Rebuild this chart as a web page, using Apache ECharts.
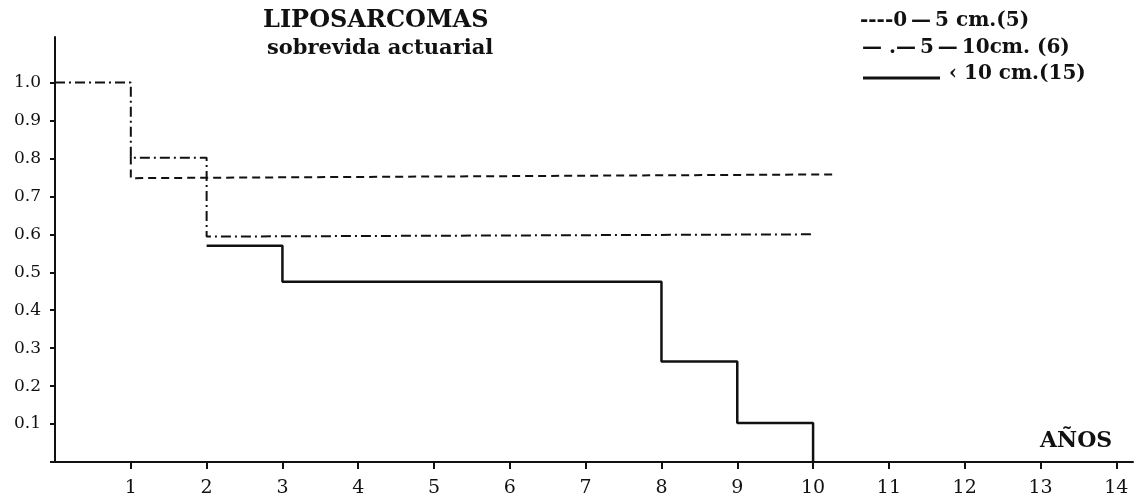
<!DOCTYPE html>
<html>

<head>
    <meta charset="utf-8">
    <script src="https://cdn.jsdelivr.net/npm/echarts@6/dist/echarts.min.js"></script>
    <style>
        body { margin: 0; background: #fff; }
        #main { width: 1137px; height: 504px; }
    </style>
</head>

<body>
    <div id="main"></div>
</body>
<script>
    // years / survival
    var yTicks = [0, 0.1, 0.2, 0.3, 0.4, 0.5, 0.6, 0.7, 0.8, 0.9, 1.0];
    var xTicks = [1, 2, 3, 4, 5, 6, 7, 8, 9, 10, 11, 12, 13, 14];

    var small = [[1, 0.805], [1, 0.748], [10.3, 0.758]];                      // 0-5 cm
    var medium = [[0, 1.0], [1, 1.0], [1, 0.802], [2, 0.802], [2, 0.594], [10, 0.6]];  // 5-10 cm
    var large = [[2, 0.57], [3, 0.57], [3, 0.475], [8, 0.475], [8, 0.265], [9, 0.265],
                 [9, 0.103], [10, 0.103], [10, 0]];                             // > 10 cm

    var serif = 'DejaVu Serif';
    var myChart = echarts.init(document.getElementById('main'));

    function lineSeries(data, type, width) {
        return {
            type: 'line',
            data: data,
            symbol: 'none',
            animation: false,
            lineStyle: { color: '#111', width: width, type: type }
        };
    }

    function label(x, y, text, size) {
        return {
            type: 'text', x: x, y: y,
            style: { text: text, font: 'bold ' + size + 'px ' + serif, fill: '#111', textVerticalAlign: 'middle' }
        };
    }

    myChart.setOption({
        backgroundColor: '#fff',
        grid: { left: 55, right: 4, top: 37, bottom: 42 },
        xAxis: {
            type: 'value',
            min: 0,
            max: 14.22,
            splitLine: { show: false },
            axisLine: { lineStyle: { color: '#111', width: 2 } },
            axisTick: { customValues: xTicks, length: 7, lineStyle: { color: '#111', width: 2 } },
            axisLabel: { customValues: xTicks, margin: 17, color: '#111', fontFamily: serif, fontSize: 19 }
        },
        yAxis: {
            type: 'value',
            min: 0,
            max: 1.12,
            splitLine: { show: false },
            axisLine: { lineStyle: { color: '#111', width: 2 } },
            axisTick: { customValues: yTicks, length: 5, lineStyle: { color: '#111', width: 2 } },
            axisLabel: {
                customValues: yTicks,
                margin: 14,
                color: '#111',
                fontFamily: serif,
                fontSize: 17,
                formatter: function (v) { return v === 0 ? '' : v.toFixed(1); }
            }
        },
        series: [
            lineSeries(small, [8, 5], 2),
            lineSeries(medium, [10, 4, 2, 4], 2),
            lineSeries(large, 'solid', 2.5)
        ],
        graphic: [
            label(263, 21, 'LIPOSARCOMAS', 24),
            label(267, 49, 'sobrevida actuarial', 21),
            label(860, 21, '----0\u2009—\u20095 cm.(5)', 20),
            label(862, 48, '— .—\u20095\u2009—\u200910cm. (6)', 20),
            { type: 'line', shape: { x1: 863, y1: 78, x2: 940, y2: 78 }, style: { stroke: '#111', lineWidth: 3 } },
            label(949, 74, '‹ 10 cm.(15)', 20),
            label(1040, 441, 'AÑOS', 22)
        ]
    });
</script>

</html>
